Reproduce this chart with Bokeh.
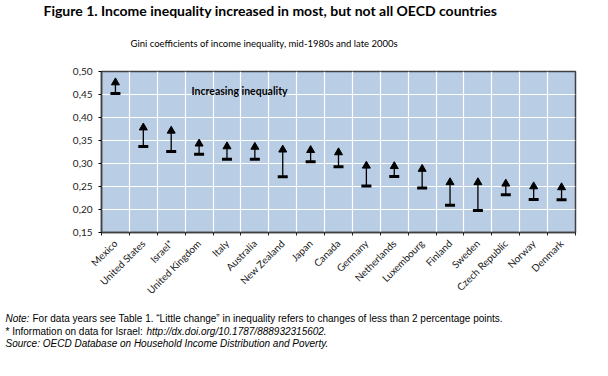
import math
from bokeh.plotting import figure
from bokeh.models import (ColumnDataSource, Label, FixedTicker, CustomJSTickFormatter, Range1d)
from bokeh.embed import file_html
from bokeh.resources import INLINE

countries = ["Mexico", "United States", "Israel*", "United Kingdom", "Italy", "Australia",
             "New Zealand", "Japan", "Canada", "Germany", "Netherlands", "Luxembourg",
             "Finland", "Sweden", "Czech Republic", "Norway", "Denmark"]
mid_1980s = [0.452, 0.337, 0.326, 0.320, 0.309, 0.309, 0.271, 0.304, 0.293,
             0.251, 0.272, 0.247, 0.209, 0.198, 0.232, 0.222, 0.221]
late_2000s = [0.476, 0.378, 0.371, 0.343, 0.337, 0.336, 0.330, 0.329, 0.324,
              0.295, 0.294, 0.288, 0.259, 0.259, 0.256, 0.250, 0.248]
y_ticks = [0.15, 0.20, 0.25, 0.30, 0.35, 0.40, 0.45, 0.50]

n = len(countries)
xs = list(range(n))
src = ColumnDataSource(dict(x=xs, start=mid_1980s, end=late_2000s, name=countries))

FONT = "Lato"
NOTE_FONT = "Liberation Sans"

p = figure(width=608, height=376, output_backend="svg", toolbar_location=None,
           x_range=Range1d(-0.5, n - 0.5), y_range=Range1d(y_ticks[0], y_ticks[-1]),
           min_border_left=101, min_border_right=33, min_border_top=71, min_border_bottom=144)
p.background_fill_color = "#B9CDE5"
p.border_fill_color = "white"
p.outline_line_color = "#404040"
p.outline_line_width = 1.5

p.xgrid.ticker = FixedTicker(ticks=[i + 0.5 for i in range(-1, n)])
p.xgrid.grid_line_color = "white"
p.xgrid.grid_line_width = 1.2
p.ygrid.ticker = FixedTicker(ticks=y_ticks)
p.ygrid.grid_line_color = "white"
p.ygrid.grid_line_width = 1.2

p.xaxis.ticker = FixedTicker(ticks=xs, minor_ticks=[i + 0.5 for i in range(-1, n)])
p.xaxis.major_label_overrides = {i: c for i, c in enumerate(countries)}
p.xaxis.major_label_orientation = math.pi / 4
p.xaxis.major_tick_out = 0
p.xaxis.major_tick_in = 0
p.xaxis.minor_tick_out = 3
p.xaxis.minor_tick_in = 0
p.xaxis.minor_tick_line_color = "#202020"
p.xaxis.axis_line_color = "#404040"
p.xaxis.axis_line_width = 1.5
p.xaxis.major_label_text_font = FONT
p.xaxis.major_label_text_font_size = "10px"
p.xaxis.major_label_text_color = "#222222"
p.xaxis.major_label_standoff = 6

p.yaxis.ticker = FixedTicker(ticks=y_ticks)
p.yaxis.formatter = CustomJSTickFormatter(code="return tick.toFixed(2).replace('.', ',');")
p.yaxis.major_tick_out = 3
p.yaxis.major_tick_in = 0
p.yaxis.minor_tick_out = 0
p.yaxis.minor_tick_in = 0
p.yaxis.axis_line_color = "#404040"
p.yaxis.axis_line_width = 1.5
p.yaxis.major_label_text_font = FONT
p.yaxis.major_label_text_font_size = "10px"
p.yaxis.major_label_text_color = "#222222"
p.yaxis.major_label_standoff = 6

p.segment(x0="x", y0="start", x1="x", y1="end", source=src, line_color="black", line_width=1.3)
p.scatter(x="x", y="end", source=src, marker="triangle", size=8, fill_color="black",
          line_color="black")
p.scatter(x="x", y="start", source=src, marker="dash", size=10, line_color="black",
          line_width=3)

def lab(text, x, y, size, style="normal", font=FONT, place="center"):
    l = Label(x=x, y=y, x_units="screen", y_units="screen", text=text,
              text_font=font, text_font_size=size, text_font_style=style,
              text_color="black", text_align="left", text_baseline="alphabetic")
    p.add_layout(l, place)

# inside the frame (frame left=101, bottom=232)
lab("Increasing inequality", 191 - 101, 232 - 90, "10.5px", "bold")

# above the frame: each label sits in its own panel stacked upwards from the frame
lab("Gini coefficients of income inequality, mid-1980s and late 2000s", 130 - 101, 28, "9.5px", place="above")
lab("Figure 1. Income inequality increased in most, but not all OECD countries", 43 - 101, 50, "14px", "bold", place="above")

# below the x axis: each label in its own panel stacked downwards
lab("Note:", 5 - 101, -4, "10px", "italic", NOTE_FONT, place="below")
lab("For data years see Table 1. \u201cLittle change\u201d in inequality refers to changes of less than 2 percentage points.",
    32 - 101, 7, "10px", "normal", NOTE_FONT, place="below")
lab("* Information on data for Israel: ", 5 - 101, 5, "10px", "normal", NOTE_FONT, place="below")
lab("http://dx.doi.org/10.1787/888932315602.", 146 - 101, 16, "10px", "italic", NOTE_FONT, place="below")
lab("Source: OECD Database on Household Income Distribution and Poverty.", 5 - 101, 15, "10px", "italic", NOTE_FONT, place="below")

open("out.html", "w").write(file_html(p, INLINE))
